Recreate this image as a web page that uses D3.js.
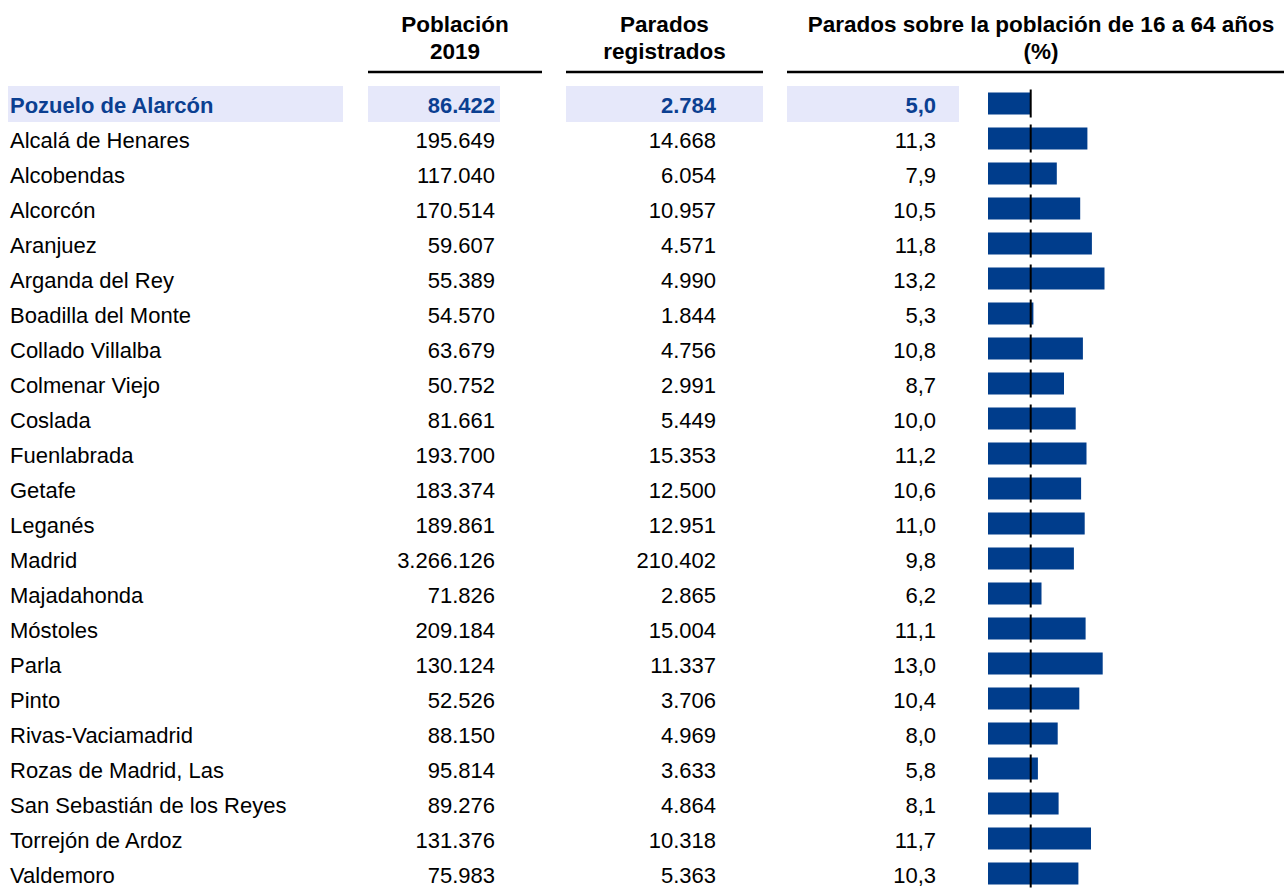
<!DOCTYPE html>
<html>
<head>
<meta charset="utf-8">
<script src="https://cdn.jsdelivr.net/npm/d3@7"></script>
<style>
  html, body { margin: 0; padding: 0; background: #fff; }
  svg { display: block; font-family: "Liberation Sans", Arial, sans-serif; }
</style>
</head>
<body>
<svg id="chart" width="1284" height="888"></svg>
<script>
const municipios = [
  'Pozuelo de Alarcón', 'Alcalá de Henares', 'Alcobendas', 'Alcorcón', 'Aranjuez',
  'Arganda del Rey', 'Boadilla del Monte', 'Collado Villalba', 'Colmenar Viejo',
  'Coslada', 'Fuenlabrada', 'Getafe', 'Leganés', 'Madrid', 'Majadahonda',
  'Móstoles', 'Parla', 'Pinto', 'Rivas-Vaciamadrid', 'Rozas de Madrid, Las',
  'San Sebastián de los Reyes', 'Torrejón de Ardoz', 'Valdemoro'
];
const poblacion = [
  86422, 195649, 117040, 170514, 59607, 55389, 54570, 63679, 50752, 81661,
  193700, 183374, 189861, 3266126, 71826, 209184, 130124, 52526, 88150,
  95814, 89276, 131376, 75983
];
const parados = [
  2784, 14668, 6054, 10957, 4571, 4990, 1844, 4756, 2991, 5449, 15353,
  12500, 12951, 210402, 2865, 15004, 11337, 3706, 4969, 3633, 4864, 10318, 5363
];
const tasa = [
  5.0, 11.3, 7.9, 10.5, 11.8, 13.2, 5.3, 10.8, 8.7, 10.0, 11.2, 10.6, 11.0,
  9.8, 6.2, 11.1, 13.0, 10.4, 8.0, 5.8, 8.1, 11.7, 10.3
];
const encabezados = [
  ['Población', '2019'],
  ['Parados', 'registrados'],
  ['Parados sobre la población de 16 a 64 años', '(%)']
];
const destacado = 'Pozuelo de Alarcón';

const es = d3.formatLocale({ decimal: ',', thousands: '.', grouping: [3], currency: ['', ' €'] });
const fmtInt = es.format(',d');
const fmtPct = es.format('.1f');

const blue = '#003d8c';
const band = '#e6e8fa';
const svg = d3.select('#chart');

const rows = municipios.map((m, i) => ({
  name: m, pob: poblacion[i], par: parados[i], pct: tasa[i], hl: m === destacado
}));

const y = d3.scaleBand()
  .domain(municipios)
  .range([86, 86 + 35 * municipios.length])
  .paddingInner(0);
const x = d3.scaleLinear().domain([0, 14]).range([985.7, 985.7 + 9 * 14]);
const refValue = tasa[municipios.indexOf(destacado)];

// header
const cols = [
  { x0: 368, x1: 542 },
  { x0: 566, x1: 763 },
  { x0: 787, x1: 1284, cx: 1041 }
];
const head = svg.append('g');
cols.forEach((c, i) => {
  const cx = c.cx || (c.x0 + c.x1) / 2;
  const t = head.append('text')
    .attr('text-anchor', 'middle')
    .attr('font-weight', 'bold')
    .attr('font-size', 22.5)
    .attr('fill', '#000');
  encabezados[i].forEach((line, j) => {
    t.append('tspan').attr('x', cx).attr('y', 32 + j * 27).text(line);
  });
  head.append('line')
    .attr('x1', c.x0).attr('x2', c.x1)
    .attr('y1', 72).attr('y2', 72)
    .attr('stroke', '#000').attr('stroke-width', 2.5);
});

// highlight bands for the selected municipality
const hl = rows.filter(d => d.hl);
[[8, 343], [368, 500], [566, 763], [787, 959]].forEach(([a, b]) => {
  svg.selectAll(null).data(hl).join('rect')
    .attr('x', a).attr('width', b - a)
    .attr('y', d => y(d.name)).attr('height', 36)
    .attr('fill', band);
});

const body = svg.append('g').attr('font-size', 22);
const rowG = body.selectAll('g.row').data(rows).join('g')
  .attr('class', 'row')
  .attr('transform', d => `translate(0,${y(d.name) + y.bandwidth() / 2})`)
  .attr('fill', d => d.hl ? '#0b3f91' : '#000')
  .attr('font-weight', d => d.hl ? 'bold' : 'normal');

rowG.append('text').attr('x', 10).attr('dy', 9.5).text(d => d.name);
rowG.append('text').attr('x', 495).attr('dy', 9.5).attr('text-anchor', 'end').text(d => fmtInt(d.pob));
rowG.append('text').attr('x', 716).attr('dy', 9.5).attr('text-anchor', 'end').text(d => fmtInt(d.par));
rowG.append('text').attr('x', 936).attr('dy', 9.5).attr('text-anchor', 'end').text(d => fmtPct(d.pct));

// bars
const barH = 22;
rowG.append('rect')
  .attr('x', 988)
  .attr('y', -barH / 2)
  .attr('height', barH)
  .attr('width', d => Math.max(0, x(d.pct) - 988))
  .attr('fill', blue);

// reference marker at the highlighted value
rowG.append('line')
  .attr('x1', x(refValue)).attr('x2', x(refValue))
  .attr('y1', -barH / 2 - 3).attr('y2', barH / 2 + 3)
  .attr('stroke', '#000').attr('stroke-width', 2);
</script>
</body>
</html>
